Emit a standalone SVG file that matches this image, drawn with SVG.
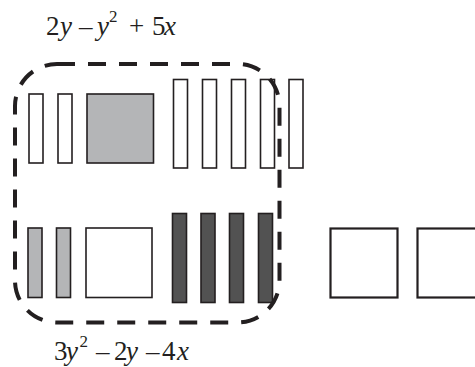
<svg xmlns="http://www.w3.org/2000/svg" width="475" height="367" viewBox="0 0 475 367">
<style>
.t{stroke:#231f20;stroke-width:1.6;}
.w{fill:#ffffff;}
.g{fill:#b4b5b7;}
.d{fill:#525252;}
.b{fill:#ffffff;stroke:#231f20;stroke-width:2.2;}
.lbl{font-family:"Liberation Serif","Times New Roman",serif;font-size:27px;fill:#231f20;}
.i{font-style:italic;}
.sup{font-size:17px;}
.dash{fill:none;stroke:#231f20;stroke-width:4;stroke-dasharray:18 13;}
</style>
<rect width="475" height="367" fill="#ffffff"/>
<g id="connectors"></g>
<g id="top-row">
<rect class="t w" x="29" y="94" width="14" height="69"/>
<rect class="t w" x="58" y="94" width="14" height="69"/>
<rect class="t g" x="87" y="94" width="66.5" height="69"/>
<rect class="t w" x="173.5" y="79.5" width="14" height="88.5"/>
<rect class="t w" x="202.5" y="79.5" width="14" height="88.5"/>
<rect class="t w" x="231.5" y="79.5" width="14" height="88.5"/>
<rect class="t w" x="260.5" y="79.5" width="14" height="88.5"/>
<rect class="t w" x="289" y="79.5" width="14" height="88.5"/>
</g>
<g id="bottom-row">
<rect class="t g" x="28" y="228" width="14" height="69.5"/>
<rect class="t g" x="56.5" y="228" width="14" height="69.5"/>
<rect class="t w" x="86" y="228" width="66" height="69.5"/>
<rect class="t d" x="172.5" y="213.5" width="14" height="89"/>
<rect class="t d" x="201" y="213.5" width="14" height="89"/>
<rect class="t d" x="229.5" y="213.5" width="14" height="89"/>
<rect class="t d" x="258.5" y="213.5" width="14" height="89"/>
</g>
<g id="right-squares">
<rect class="b" x="330.5" y="228.5" width="67" height="69"/>
<rect class="b" x="417.5" y="228.5" width="67" height="69"/>
</g>
<g id="group-border">
<rect class="dash" x="15" y="64" width="264.5" height="258.5" rx="42" ry="42"/>
</g>
<g id="label-top">
<text class="lbl" y="34.5"><tspan x="46">2</tspan><tspan class="i" x="60">y</tspan><tspan x="79">–</tspan><tspan class="i" x="97">y</tspan><tspan class="sup" x="109" y="22">2</tspan><tspan x="129" y="34.5">+</tspan><tspan x="152">5</tspan><tspan class="i" x="164">x</tspan></text>
</g>
<g id="label-bottom">
<text class="lbl" y="359.5"><tspan x="54">3</tspan><tspan class="i" x="66">y</tspan><tspan class="sup" x="79.5" y="347">2</tspan><tspan x="96" y="359.5">–</tspan><tspan x="114">2</tspan><tspan class="i" x="126">y</tspan><tspan x="146">–</tspan><tspan x="162">4</tspan><tspan class="i" x="177">x</tspan></text>
</g>
</svg>
